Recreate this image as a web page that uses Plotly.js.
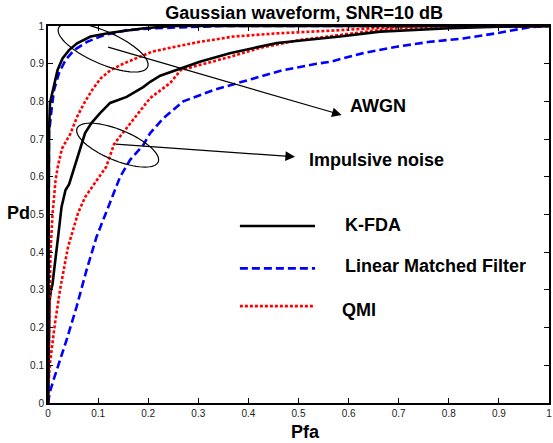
<!DOCTYPE html>
<html>
<head>
<meta charset="utf-8">
<script src="https://cdn.plot.ly/plotly-3.0.1.min.js"></script>
<style>html,body{margin:0;padding:0;background:#fff;}#chart{width:553px;height:443px;}</style>
</head>
<body>
<div id="chart"></div>
<script>
// ---------- data ----------
const kfdaAwgnX = [0, 0.001, 0.002, 0.002, 0.004, 0.011, 0.019, 0.029, 0.042, 0.058, 0.085, 0.125, 0.192, 0.25, 1];
const kfdaAwgnY = [0, 0.25, 0.5, 0.72, 0.796, 0.839, 0.883, 0.914, 0.936, 0.954, 0.972, 0.982, 0.994, 1.0, 1.0];

const lmfAwgnX = [0, 0.001, 0.002, 0.002, 0.007, 0.012, 0.022, 0.035, 0.052, 0.078, 0.112, 0.158, 0.212, 0.3, 0.35, 1];
const lmfAwgnY = [0, 0.3, 0.6, 0.716, 0.777, 0.83, 0.875, 0.91, 0.936, 0.958, 0.976, 0.989, 0.994, 0.998, 1.0, 1.0];

const qmiAwgnX = [0, 0.001, 0.002, 0.003, 0.005, 0.009, 0.015, 0.020, 0.028, 0.045, 0.058, 0.072, 0.088, 0.105, 0.125, 0.152, 0.185, 0.208, 0.25, 0.303, 0.37, 0.463, 0.583, 0.697, 0.75, 1];
const qmiAwgnY = [0, 0.1, 0.2, 0.3, 0.4, 0.5, 0.59, 0.63, 0.675, 0.715, 0.759, 0.795, 0.83, 0.861, 0.883, 0.901, 0.919, 0.932, 0.944, 0.958, 0.972, 0.981, 0.989, 0.998, 1.0, 1.0];

const kfdaImpX = [0, 0.001, 0.002, 0.003, 0.006, 0.009, 0.012, 0.015, 0.021, 0.027, 0.035, 0.042, 0.052, 0.064, 0.074, 0.087, 0.104, 0.124, 0.157, 0.19, 0.204, 0.224, 0.263, 0.303, 0.363, 0.457, 0.583, 0.663, 0.802, 0.9, 1];
const kfdaImpY = [0, 0.1, 0.2, 0.27, 0.3, 0.315, 0.35, 0.39, 0.45, 0.52, 0.565, 0.58, 0.623, 0.679, 0.716, 0.743, 0.769, 0.796, 0.812, 0.838, 0.852, 0.868, 0.886, 0.905, 0.928, 0.955, 0.972, 0.985, 0.994, 0.998, 1.0];

const qmiImpX = [0, 0.001, 0.004, 0.014, 0.024, 0.040, 0.060, 0.074, 0.098, 0.116, 0.132, 0.170, 0.204, 0.244, 0.265, 0.363, 0.423, 0.503, 0.583, 0.697, 0.802, 1];
const qmiImpY = [0, 0.05, 0.106, 0.212, 0.300, 0.414, 0.504, 0.546, 0.592, 0.626, 0.687, 0.751, 0.809, 0.849, 0.883, 0.918, 0.942, 0.963, 0.976, 0.995, 0.997, 1.0];

const lmfImpX = [0, 0.004, 0.011, 0.037, 0.057, 0.077, 0.097, 0.12, 0.124, 0.144, 0.164, 0.19, 0.204, 0.23, 0.27, 0.33, 0.395, 0.466, 0.536, 0.563, 0.629, 0.696, 0.762, 0.829, 0.896, 0.962, 1];
const lmfImpY = [0, 0.03, 0.061, 0.167, 0.255, 0.353, 0.441, 0.521, 0.53, 0.60, 0.645, 0.684, 0.716, 0.755, 0.80, 0.83, 0.855, 0.882, 0.90, 0.905, 0.928, 0.945, 0.958, 0.967, 0.981, 0.997, 1.0];

const tickVals = [0, 0.1, 0.2, 0.3, 0.4, 0.5, 0.6, 0.7, 0.8, 0.9, 1];
const tickText = ['0', '0.1', '0.2', '0.3', '0.4', '0.5', '0.6', '0.7', '0.8', '0.9', '1'];
const legendNames = ['K-FDA', 'Linear Matched Filter', 'QMI'];
const titleText = 'Gaussian waveform, SNR=10 dB';
const xTitle = 'Pfa';
const yTitle = 'Pd';
const awgnLabel = 'AWGN';
const impLabel = 'Impulsive noise';

// ---------- styles ----------
const FONT = 'Arial, "Liberation Sans", sans-serif';
const blackLine = {color: '#000000', width: 2.6};
const blueLine = {color: '#0000ff', width: 2.6, dash: '8px,4px'};
const redLine = {color: '#ff0000', width: 2.6, dash: '3px,2px'};

function tr(x, y, line) {
  return {type: 'scatter', mode: 'lines', x: x, y: y, line: line, showlegend: false, hoverinfo: 'skip'};
}
const data = [
  tr(lmfImpX, lmfImpY, blueLine),
  tr(qmiImpX, qmiImpY, redLine),
  tr(kfdaImpX, kfdaImpY, blackLine),
  tr(qmiAwgnX, qmiAwgnY, redLine),
  tr(lmfAwgnX, lmfAwgnY, blueLine),
  tr(kfdaAwgnX, kfdaAwgnY, blackLine)
];

// plot area size in px (for drawing the ellipses with the right aspect)
const M = {l: 48, r: 4, t: 26, b: 40};
const PW = 553 - M.l - M.r, PH = 443 - M.t - M.b;
function ellipsePath(cx, cy, aPx, bPx, thetaDeg) {
  const th = thetaDeg * Math.PI / 180;
  let d = '';
  for (let i = 0; i <= 72; i++) {
    const t = i / 72 * 2 * Math.PI;
    const ux = aPx * Math.cos(t), uy = bPx * Math.sin(t);
    const px = ux * Math.cos(th) - uy * Math.sin(th);
    const py = ux * Math.sin(th) + uy * Math.cos(th); // screen y down
    const x = cx + px / PW, y = cy - py / PH;
    d += (i === 0 ? 'M' : 'L') + x.toFixed(5) + ',' + y.toFixed(5);
  }
  return d + 'Z';
}

const shapes = [
  {type: 'path', xref: 'x', yref: 'y', path: ellipsePath(0.110, 0.943, 48.6, 16.2, 23.7), line: {color: '#000', width: 1.2}},
  {type: 'path', xref: 'x', yref: 'y', path: ellipsePath(0.139, 0.684, 43.9, 15.3, 22.5), line: {color: '#000', width: 1.2}},
  // legend samples
  {type: 'line', xref: 'paper', yref: 'paper', x0: 0.383, x1: 0.533, y0: 0.4695, y1: 0.4695, line: {color: '#000', width: 2.6}},
  {type: 'line', xref: 'paper', yref: 'paper', x0: 0.383, x1: 0.533, y0: 0.357, y1: 0.357, line: {color: '#0000ff', width: 2.6, dash: '8px,4px'}},
  {type: 'line', xref: 'paper', yref: 'paper', x0: 0.383, x1: 0.533, y0: 0.257, y1: 0.257, line: {color: '#ff0000', width: 2.6, dash: '3px,2px'}}
];

const bold18 = {family: FONT, size: 18, color: '#000'};
function label(text, x, y, anchor) {
  return {text: '<b>' + text + '</b>', xref: 'paper', yref: 'paper', x: x, y: y, xanchor: anchor || 'left', yanchor: 'middle', showarrow: false, font: bold18};
}
const annotations = [
  label(legendNames[0], 0.589, 0.472),
  label(legendNames[1], 0.589, 0.363),
  label(legendNames[2], 0.583, 0.247),
  label(awgnLabel, 0.599, 0.788),
  label(impLabel, 0.517, 0.645),
  label(yTitle, -0.059, 0.504, 'center'),
  label(xTitle, 0.514, -0.077, 'center'),
  // arrows
  {text: '', xref: 'x', yref: 'y', axref: 'x', ayref: 'y', x: 0.586, y: 0.764, ax: 0.117, ay: 0.945,
   showarrow: true, arrowhead: 2, arrowsize: 1.6, arrowwidth: 1.2, arrowcolor: '#000', standoff: 0, startstandoff: 0},
  {text: '', xref: 'x', yref: 'y', axref: 'x', ayref: 'y', x: 0.493, y: 0.653, ax: 0.132, ay: 0.687,
   showarrow: true, arrowhead: 2, arrowsize: 1.6, arrowwidth: 1.2, arrowcolor: '#000', standoff: 0, startstandoff: 0}
];

const axisCommon = {
  range: [0, 1], tickmode: 'array', tickvals: tickVals, ticktext: tickText,
  ticks: 'inside', ticklen: 5, tickwidth: 1, tickcolor: '#000',
  showline: true, linecolor: '#000', linewidth: 2, mirror: 'ticks',
  showgrid: false, zeroline: false, fixedrange: true,
  tickfont: {family: FONT, size: 10, color: '#222'}
};

const layout = {
  width: 553, height: 443,
  margin: M,
  paper_bgcolor: '#fff', plot_bgcolor: '#fff',
  title: {text: '<b>' + titleText + '</b>', font: bold18, xref: 'container', yref: 'container', x: 0.55, y: 0.971, xanchor: 'center', yanchor: 'middle'},
  xaxis: Object.assign({}, axisCommon),
  yaxis: Object.assign({}, axisCommon),
  shapes: shapes,
  annotations: annotations,
  showlegend: false
};

Plotly.newPlot('chart', data, layout, {staticPlot: true, displayModeBar: false});
</script>
</body>
</html>
